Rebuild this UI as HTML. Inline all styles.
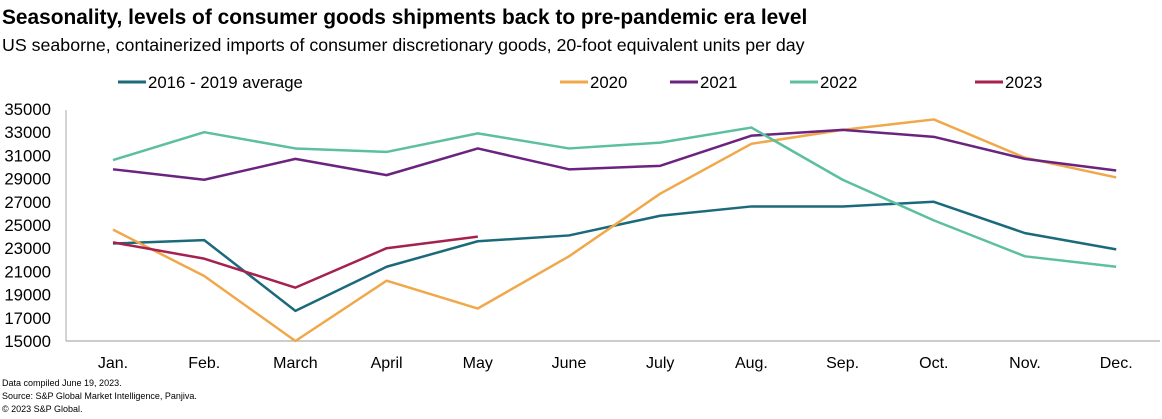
<!DOCTYPE html>
<html><head><meta charset="utf-8"><style>
body{margin:0;background:#fff;font-family:"Liberation Sans",Arial,sans-serif}
svg{display:block}
</style></head><body>
<svg id="chart" width="1162" height="419" xmlns="http://www.w3.org/2000/svg" font-family="Liberation Sans, Arial, sans-serif">
<text x="2" y="24" font-size="20.9" font-weight="bold" fill="#000">Seasonality, levels of consumer goods shipments back to pre-pandemic era level</text>
<text x="2" y="51" font-size="17.8" fill="#000">US seaborne, containerized imports of consumer discretionary goods, 20-foot equivalent units per day</text>
<g id="legend"></g>
<g id="yaxis"></g>
<g id="xaxis"></g>
<g id="series"></g>
<text x="2" y="386" font-size="9" fill="#000">Data compiled June 19, 2023.</text>
<text x="2" y="399" font-size="9" fill="#000">Source: S&amp;P Global Market Intelligence, Panjiva.</text>
<text x="2" y="412" font-size="9" fill="#000">© 2023 S&amp;P Global.</text>
</svg>
<script>
const categories=["Jan.","Feb.","March","April","May","June","July","Aug.","Sep.","Oct.","Nov.","Dec."];
const yTicks=[15000,17000,19000,21000,23000,25000,27000,29000,31000,33000,35000];
const avg1619=[23400,23700,17600,21400,23600,24100,25800,26600,26600,27000,24300,22900];
const y2020=[24600,20600,15000,20200,17800,22300,27700,32000,33200,34100,30800,29100];
const y2021=[29800,28900,30700,29300,31600,29800,30100,32700,33200,32600,30700,29700];
const y2022=[30600,33000,31600,31300,32900,31600,32100,33400,28900,25400,22300,21400];
const y2023=[23500,22100,19600,23000,24000];
const seriesNames=["2016 - 2019 average","2020","2021","2022","2023"];
const NS="http://www.w3.org/2000/svg";
const x=i=>113+i*91.2;
const y=v=>341-(v-15000)*(232/20000);
function mk(tag,attrs,parent){const e=document.createElementNS(NS,tag);for(const k in attrs)e.setAttribute(k,attrs[k]);parent.appendChild(e);return e;}
const ya=document.getElementById('yaxis');
const yl=mk('line',{x1:66,x2:66,y1:110,y2:341,stroke:'#aaa','stroke-width':1},ya);


yTicks.forEach(t=>{const e=mk('text',{x:51,y:y(t)+6,'text-anchor':'end','font-size':16.8,fill:'#000'},ya);e.textContent=t;

});
const xa=document.getElementById('xaxis');
const ax=mk('line',{x1:66,x2:1160,y1:341,y2:341,stroke:'#999','stroke-width':1},xa);


categories.forEach((c,i)=>{const e=mk('text',{x:x(i),y:368,'text-anchor':'middle','font-size':16,fill:'#000'},xa);e.textContent=c;

});
const colors=["#1b6a7b","#f0a84a","#6b2380","#5cbf9f","#a5214f"];
const data=[avg1619,y2020,y2021,y2022,y2023];
const sg=document.getElementById('series');
data.forEach((d,s)=>{const p=mk('polyline',{points:d.map((v,i)=>x(i)+','+y(v)).join(' '),fill:'none',stroke:colors[s],'stroke-width':2.5,'stroke-linejoin':'round'},sg);

});
const lg=document.getElementById('legend');
const lx=[118,560,670,790,975];
seriesNames.forEach((n,s)=>{const g=mk('g',{},lg);


mk('line',{x1:lx[s],x2:lx[s]+28,y1:82,y2:82,stroke:colors[s],'stroke-width':3},g);
const t=mk('text',{x:lx[s]+30,y:88,'font-size':16.8,fill:'#000'},g);t.textContent=n;});
</script>
</body></html>
